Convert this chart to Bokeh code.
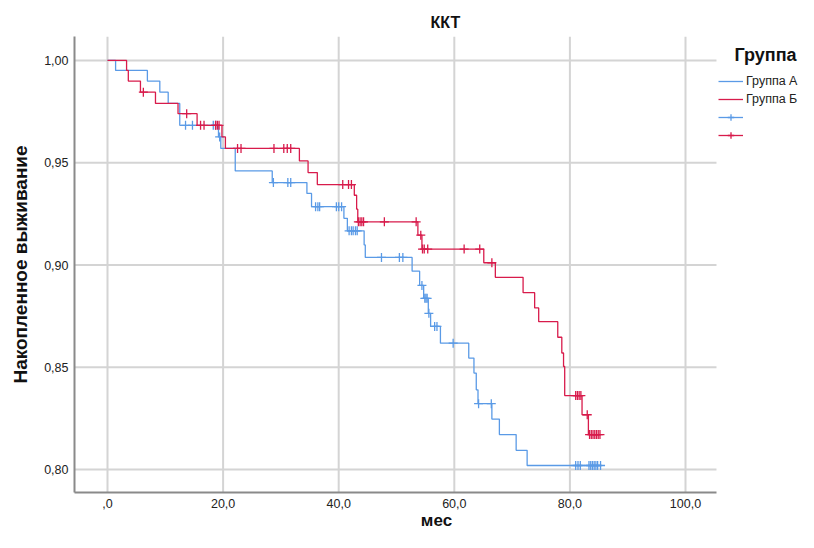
import numpy as np
from bokeh.plotting import figure
from bokeh.models import Range1d, FixedTicker, Legend, LegendItem, Label
from bokeh.embed import file_html
from bokeh.resources import INLINE

# ---- data ----
title_text = "ККТ"
x_label = "мес"
y_label = "Накопленное выживание"
legend_title = "Группа"
group_names = ["Группа А", "Группа Б"]

x_ticks = [0, 20, 40, 60, 80, 100]
x_tick_labels = [",0", "20,0", "40,0", "60,0", "80,0", "100,0"]
y_ticks = [0.80, 0.85, 0.90, 0.95, 1.00]
y_tick_labels = ["0,80", "0,85", "0,90", "0,95", "1,00"]

# Group A: event times and survival after each event
times_a = [0, 1.4, 6.9, 9.05, 10.5, 12.5, 19.2, 19.6, 22.1, 28.5, 34.5, 35.3,
           40.9, 41.5, 44.4, 44.6, 52.7, 54.0, 54.7, 55.5, 55.9, 57.6, 62.5,
           63.4, 63.8, 64.1, 66.5, 67.8, 70.7, 72.6]
surv_a = [1.000, 0.9951, 0.9899, 0.9845, 0.9790, 0.9683, 0.9626, 0.9570, 0.9460,
          0.9403, 0.9350, 0.9285, 0.9228, 0.9167, 0.9098, 0.9037, 0.8970, 0.8900,
          0.8837, 0.8764, 0.8700, 0.8618, 0.8545, 0.8472, 0.8390, 0.8322, 0.8247,
          0.8171, 0.8094, 0.8020]
cens_a = [13.5, 14.7, 18.3, 18.7, 19.4, 28.7, 31.2, 31.7, 36.0, 36.4, 36.7, 39.6,
          40.0, 40.5, 41.8, 42.2, 42.5, 42.9, 43.2, 47.4, 50.5, 51.1, 54.4, 54.9,
          55.1, 55.3, 55.6, 56.6, 57.0, 59.8, 64.2, 66.4, 81.0, 81.4, 81.8, 83.3,
          83.6, 83.9, 84.2, 84.5, 84.8, 85.3]

# Group B
times_b = [0, 3.3, 3.6, 5.7, 8.3, 12.2, 15.5, 19.8, 20.4, 33.2, 34.7, 36.3, 42.7,
           43.1, 43.3, 53.7, 54.4, 65.1, 67.1, 71.9, 73.9, 74.6, 77.9, 78.6, 78.9,
           79.1, 82.1, 83.2]
surv_b = [1.000, 0.9951, 0.9899, 0.9845, 0.9790, 0.9740, 0.9683, 0.9626, 0.9570,
          0.9509, 0.9452, 0.9393, 0.9341, 0.9273, 0.9211, 0.9146, 0.9078, 0.9011,
          0.8940, 0.8865, 0.8790, 0.8723, 0.8647, 0.8570, 0.8504, 0.8362, 0.8268,
          0.8171]
cens_b = [6.2, 13.7, 16.1, 16.7, 18.7, 19.0, 19.3, 22.5, 23.1, 28.8, 30.5, 31.1,
          31.7, 40.7, 41.7, 42.2, 43.4, 43.7, 44.0, 44.3, 47.9, 53.4, 54.2, 54.5,
          54.8, 55.4, 61.7, 64.4, 66.5, 81.0, 81.3, 81.6, 81.9, 83.0, 83.4, 83.7,
          84.0, 84.3, 84.6, 84.9, 85.2]

color_a = "#5A9AE6"
color_b = "#D81B4B"

# visible plotting area (the frame also holds the legend on its right)
X0, X1 = -5.71, 105.36
Y0, Y1 = 0.7888, 1.0117
X_FRAME_END = 119.55


def surv_at(times, vals, ts):
    t = np.asarray(times)
    v = np.asarray(vals)
    idx = np.searchsorted(t, np.asarray(ts), side="right") - 1
    return v[idx]


p = figure(width=798, height=532, output_backend="svg", toolbar_location=None,
           x_range=Range1d(X0, X_FRAME_END), y_range=Range1d(Y0, Y1),
           min_border_left=74, min_border_right=0, min_border_top=36,
           min_border_bottom=39, title=title_text)
p.outline_line_color = None
p.background_fill_color = "white"

p.title.text_font = "Liberation Sans"
p.title.text_font_size = "16px"
p.title.text_font_style = "bold"
p.title.text_color = "#111111"
p.title.align = "left"
p.title.offset = 356
p.title.standoff = 11

# axes
for ax in (p.xaxis[0], p.yaxis[0]):
    ax.axis_line_color = "#8a8a8a"
    ax.axis_line_width = 2
    ax.major_tick_line_color = None
    ax.minor_tick_line_color = None
    ax.major_tick_out = 0
    ax.major_tick_in = 0
    ax.major_label_text_font = "Liberation Sans"
    ax.major_label_text_font_size = "12.5px"
    ax.major_label_text_color = "#222222"
    ax.axis_label_text_font = "Liberation Sans"
    ax.axis_label_text_font_style = "bold"
    ax.axis_label_text_color = "#111111"

p.xaxis.bounds = (X0, X1)
p.xaxis.ticker = FixedTicker(ticks=x_ticks)
p.xaxis.major_label_overrides = {float(t): l for t, l in zip(x_ticks, x_tick_labels)}
p.yaxis.ticker = FixedTicker(ticks=y_ticks)
p.yaxis.major_label_overrides = {float(t): l for t, l in zip(y_ticks, y_tick_labels)}
p.xaxis.axis_label = x_label
p.yaxis.axis_label = y_label
p.xaxis.axis_label_text_font_size = "17px"
p.yaxis.axis_label_text_font_size = "19px"
p.xaxis.major_label_standoff = 6
p.xaxis.axis_label_standoff = 0
p.yaxis.major_label_standoff = 6
p.yaxis.axis_label_standoff = 10

# grid lines limited to the plotting area
p.xgrid.visible = False
p.ygrid.visible = False
grid_col = "#d4d4d4"
p.segment(x0=[X0] * len(y_ticks), x1=[X1] * len(y_ticks), y0=y_ticks, y1=y_ticks,
          line_color=grid_col, line_width=2, level="underlay")
p.segment(x0=x_ticks, x1=x_ticks, y0=[Y0] * len(x_ticks), y1=[Y1] * len(x_ticks),
          line_color=grid_col, line_width=2, level="underlay")

renderers = []
for times, surv, cens, col in ((times_a, surv_a, cens_a, color_a),
                               (times_b, surv_b, cens_b, color_b)):
    end = max(cens)
    xs = list(times) + [end]
    ys = list(surv) + [surv[-1]]
    line = p.step(xs, ys, mode="after", line_color=col, line_width=1.3)
    cy = surv_at(times, surv, cens)
    marks = p.scatter(cens, cy, marker="cross", size=9, line_color=col,
                      line_width=1.3)
    # legend-only helper (no visible data): horizontal stroke through the cross
    key = p.line([np.nan, np.nan], [np.nan, np.nan], line_color=col,
                 line_width=1.3)
    renderers.append((line, marks, key))

legend = Legend(items=[
    LegendItem(label=group_names[0], renderers=[renderers[0][0]]),
    LegendItem(label=group_names[1], renderers=[renderers[1][0]]),
    LegendItem(label="", renderers=[renderers[0][2], renderers[0][1]]),
    LegendItem(label="", renderers=[renderers[1][2], renderers[1][1]]),
], location=(644, 349))
legend.padding = 0
legend.margin = 0
legend.spacing = 2
legend.glyph_width = 25
legend.glyph_height = 16
legend.label_height = 16
legend.label_standoff = 3
legend.label_text_font = "Liberation Sans"
legend.label_text_font_size = "12.5px"
legend.label_text_color = "#222222"
legend.border_line_alpha = 0
legend.background_fill_alpha = 0
p.add_layout(legend)

p.add_layout(Label(x=113.84, y=1.0029, text=legend_title, text_align="center",
                   text_baseline="middle", text_font="Liberation Sans",
                   text_font_size="18px", text_font_style="bold",
                   text_color="#111111"))

open("out.html", "w").write(file_html(p, INLINE))
